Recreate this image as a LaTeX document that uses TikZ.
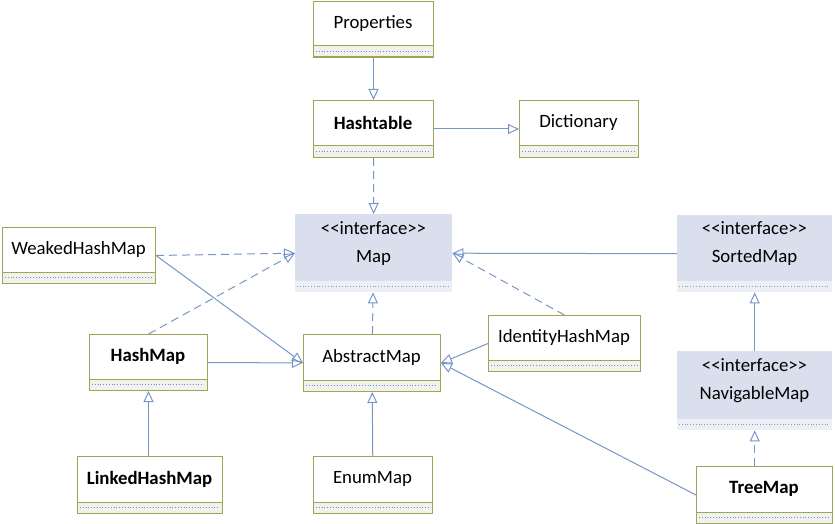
\documentclass[tikz,border=0pt]{standalone}
\usepackage{fontspec}
\setmainfont{Carlito}
\usetikzlibrary{arrows.meta,calc}
\definecolor{olv}{RGB}{160,164,84}
\definecolor{lnk}{RGB}{118,150,200}
\definecolor{ifill}{RGB}{218,223,238}
\definecolor{ifill2}{RGB}{236,239,245}
\definecolor{cfill}{RGB}{242,242,236}
\definecolor{dotc}{RGB}{110,135,215}
\definecolor{dotg}{RGB}{150,155,170}
\tikzset{
  boxtxt/.style={font=\fontsize{18.8}{28}\selectfont, align=center, inner sep=0pt},
  gen/.style={draw=lnk, line width=1pt, -{Triangle[open, length=11pt, width=10pt]}},
  real/.style={gen, dash pattern=on 8pt off 5pt},
}
\newcommand{\clsbox}[6]{%
  \node[draw=olv, line width=1pt, fill=white, inner sep=0pt, minimum width={#4-#2}, minimum height={#5-#3}, anchor=north west] (#1) at (#2,#3) {};
  \path[draw=olv, line width=1pt, fill=cfill] (#2,#5-11) rectangle (#4,#5);
  \draw[dotc, dotted, line width=0.8pt] (#2+3,#5-5.5) -- (#4-3,#5-5.5);
  \node[boxtxt] (#1-t) at ({(#2+#4)/2},{(#3+#5-11)/2}) {#6};
}
\newcommand{\ifcbox}[6]{%
  \node[fill=ifill, inner sep=0pt, minimum width={#4-#2}, minimum height={#5-#3}, anchor=north west] (#1) at (#2,#3) {};
  \path[fill=ifill2] (#2,#5-11) rectangle (#4,#5);
  \draw[dotg, dotted, line width=0.8pt] (#2+2,#5-6) -- (#4-2,#5-6);
  \node[boxtxt] (#1-t) at ({(#2+#4)/2},{(#3+#5-11)/2-4}) {<{}<interface>{}>\\#6};
}
\begin{document}
\begin{tikzpicture}[x=1pt,y=-1pt]
\useasboundingbox (0,0) rectangle (835,524);
\clsbox{props}{313}{1}{433}{57}{Properties}
\clsbox{hasht}{313}{100}{433}{157}{\textbf{Hashtable}}
\clsbox{dict}{519}{100}{638}{157}{Dictionary}
\ifcbox{map}{295}{214}{452}{292}{Map}
\clsbox{weak}{2}{227}{155}{283}{WeakedHashMap}
\clsbox{hashmap}{89}{334}{207}{390}{\textbf{HashMap}}
\clsbox{abs}{303}{334}{440}{391}{AbstractMap}
\clsbox{ident}{488}{315}{640}{371}{IdentityHashMap}
\ifcbox{sorted}{677}{215}{832}{292}{SortedMap}
\ifcbox{nav}{677}{351}{832}{430}{NavigableMap}
\clsbox{linked}{77}{456}{222}{513}{\textbf{LinkedHashMap}}
\clsbox{enum}{313}{456}{432}{513}{EnumMap}
\clsbox{tree}{696}{466}{832}{523}{\textbf{TreeMap}}

\draw[gen] (props) -- (hasht);
\draw[gen] (hasht) -- (dict);
\draw[real] (hasht) -- (map);
\draw[real] (weak.east) -- (map.west);
\draw[gen] (weak.east) -- (abs.west);
\draw[real] (hashmap.north) -- (map.west);
\draw[gen] (hashmap) -- (abs);
\draw[real] (abs) -- (map);
\draw[real] (ident.north) -- (map.east);
\draw[gen] (ident.west) -- (abs.east);
\draw[gen] (sorted.west) -- (map.east);
\draw[gen] (nav) -- (sorted);
\draw[real] (tree.north -| nav.south) -- (nav.south);
\draw[gen] (tree.west) -- (abs.east);
\draw[gen] (linked.north -| hashmap.south) -- (hashmap.south);
\draw[gen] (enum) -- (abs);
\end{tikzpicture}
\end{document}
